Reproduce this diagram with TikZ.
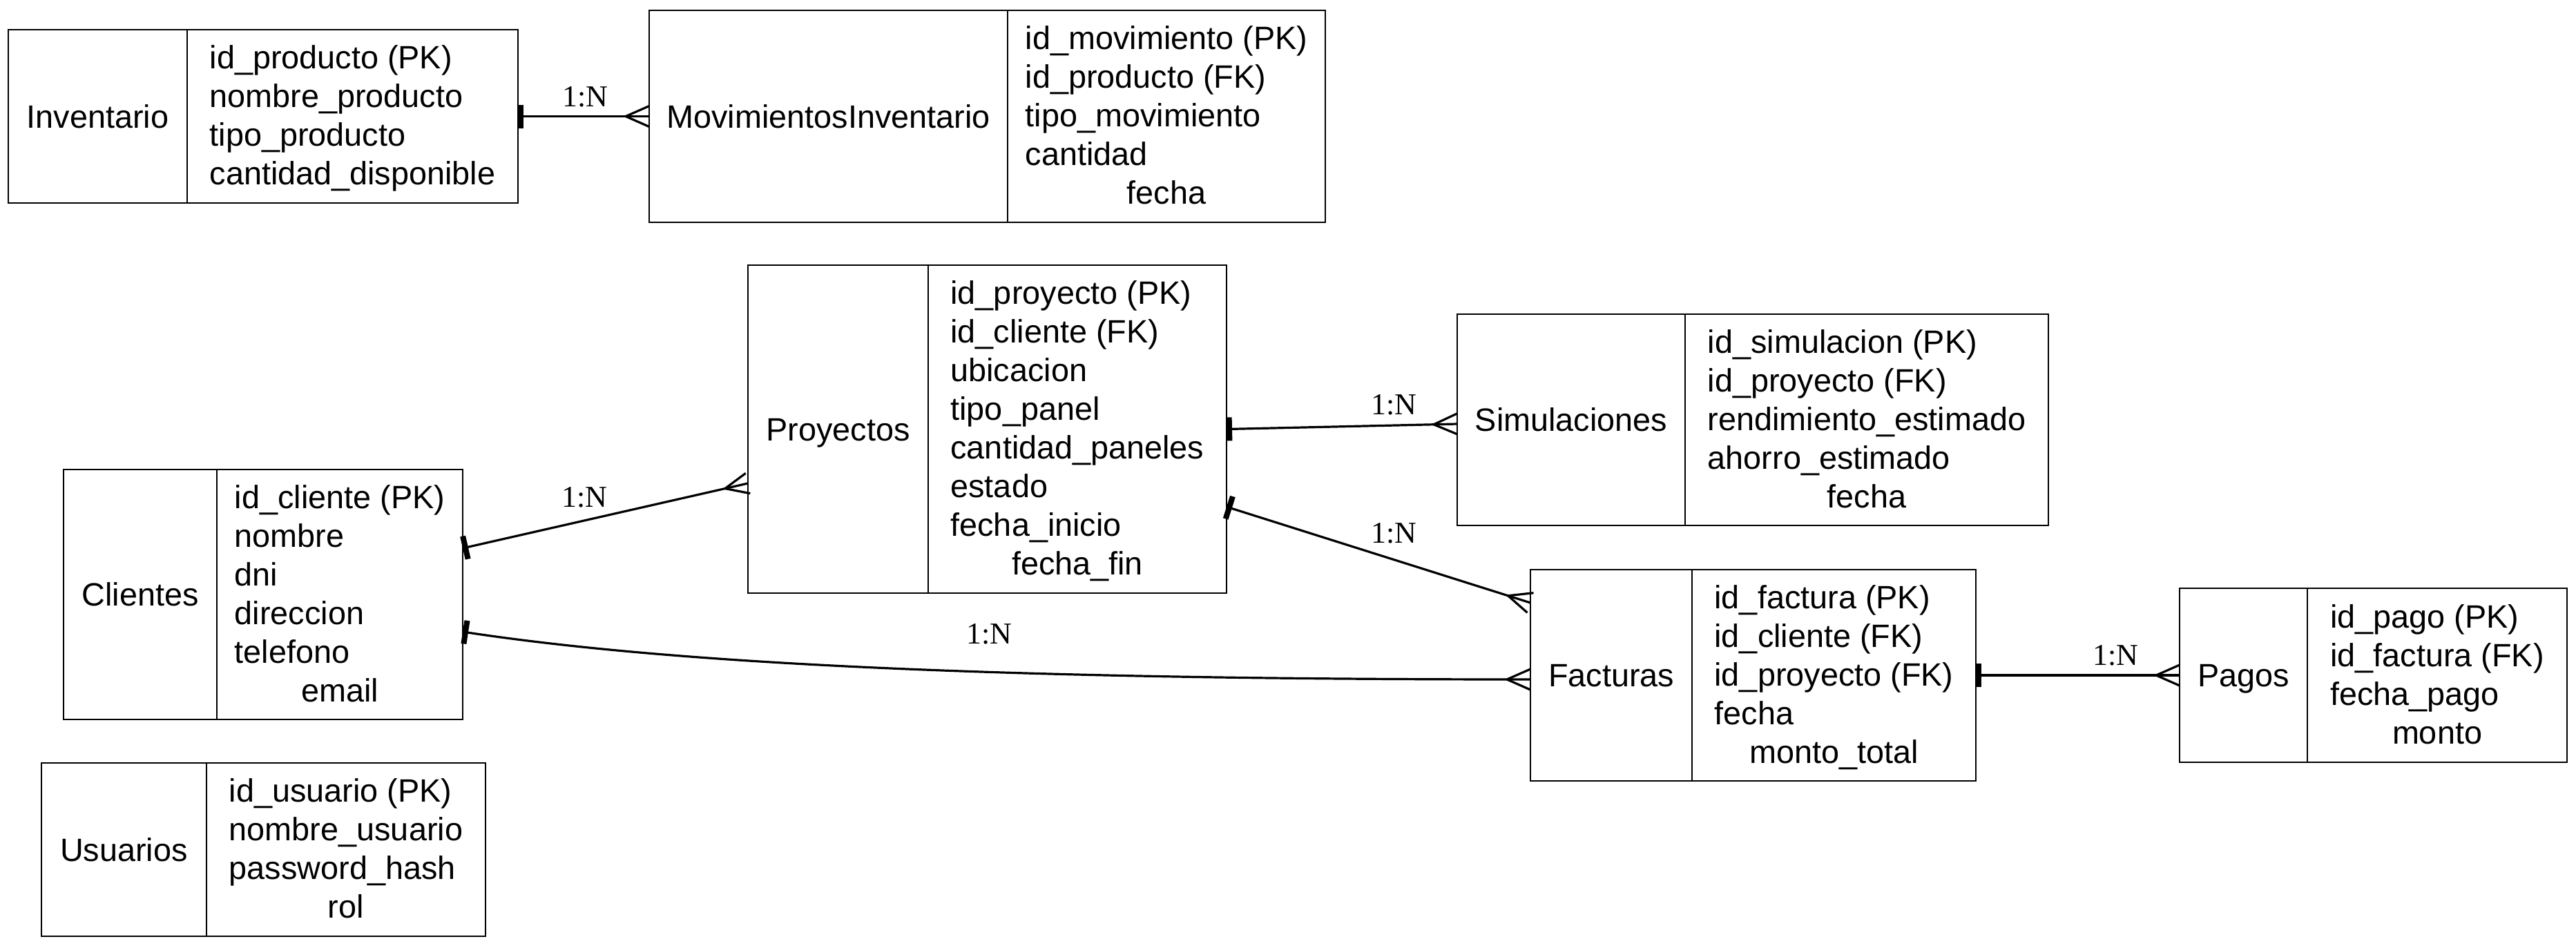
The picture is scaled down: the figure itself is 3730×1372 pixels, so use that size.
\documentclass[tikz,border=0pt]{standalone}
\usepackage{fontspec}
\setmainfont{Liberation Sans}
\newfontfamily\lblfont{Liberation Serif}
\usetikzlibrary{arrows.meta}

\pgfdeclarearrow{
  name = Crow,
  parameters = {\the\pgfarrowlength,\the\pgfarrowwidth},
  setup code = {
    \pgfarrowssettipend{0pt}
    \pgfarrowssetlineend{0pt}
    \pgfarrowssetbackend{-\pgfarrowlength}
    \pgfarrowssavethe\pgfarrowlength
    \pgfarrowssavethe\pgfarrowwidth
  },
  drawing code = {
    \pgfpathmoveto{\pgfqpoint{-\pgfarrowlength}{0pt}}
    \pgfpathlineto{\pgfqpoint{0pt}{.5\pgfarrowwidth}}
    \pgfpathmoveto{\pgfqpoint{-\pgfarrowlength}{0pt}}
    \pgfpathlineto{\pgfqpoint{0pt}{-.5\pgfarrowwidth}}
    \pgfusepathqstroke
  },
  defaults = {length=17pt, width=15pt}
}

\newcommand{\efont}{\fontsize{23.4pt}{28pt}\selectfont}
\newcommand{\lfont}{\lblfont\fontsize{22pt}{26pt}\selectfont}
\newcommand{\flds}[2]{\begin{tabular}{@{}l@{}}#1\\\multicolumn{1}{@{}c@{}}{#2}\end{tabular}}
% name, x1, y1, x2, y2, divider x, title, fields
\newcommand{\ent}[8]{%
  \node[ebox, minimum width={(#4-#2)*0.5pt}, minimum height={(#5-#3)*0.5pt}] (#1) at ({(#2+#4)/2},{(#3+#5)/2}) {};
  \draw[eline] (#6,#3) -- (#6,#5);
  \node[etitle] (#1-t) at ({(#2+#6)/2},{(#3+#5)/2}) {#7};
  \node[efield] (#1-f) at ({(#6+#4)/2},{(#3+#5)/2}) {#8};
}

\begin{document}
\begin{tikzpicture}[x=0.5pt,y=-0.5pt,
  ebox/.style={draw, line width=1.3pt, inner sep=0pt, outer sep=0pt, fill=white},
  eline/.style={line width=1.3pt},
  etitle/.style={inner sep=0pt, font=\efont, text height=16.75pt, text depth=0pt},
  efield/.style={inner sep=0pt, font=\efont, yshift=-2pt},
  lbl/.style={inner sep=0pt, font=\lfont, text height=14.6pt, text depth=0pt},
  conn/.style={line width=1.6pt, arrows={Rectangle[length=4pt,width=17pt]-Crow[length=17pt,width=15pt]}}
]
\fill[white] (0,0) rectangle (3730,1372);
\useasboundingbox (0,0) rectangle (3730,1372);

\ent{inv}{12}{43}{750}{294}{271}{Inventario}{\flds{id\_producto (PK)\\nombre\_producto\\tipo\_producto}{cantidad\_disponible}}
\ent{mov}{940}{15}{1919}{322}{1459}{MovimientosInventario}{\flds{id\_movimiento (PK)\\id\_producto (FK)\\tipo\_movimiento\\cantidad}{fecha}}
\ent{pro}{1083}{384}{1776}{859}{1344}{Proyectos}{\flds{id\_proyecto (PK)\\id\_cliente (FK)\\ubicacion\\tipo\_panel\\cantidad\_paneles\\estado\\fecha\_inicio}{fecha\_fin}}
\ent{sim}{2110}{455}{2966}{761}{2440}{Simulaciones}{\flds{id\_simulacion (PK)\\id\_proyecto (FK)\\rendimiento\_estimado\\ahorro\_estimado}{fecha}}
\ent{cli}{92}{680}{670}{1042}{314}{Clientes}{\flds{id\_cliente (PK)\\nombre\\dni\\direccion\\telefono}{email}}
\ent{fac}{2216}{825}{2861}{1131}{2450}{Facturas}{\flds{id\_factura (PK)\\id\_cliente (FK)\\id\_proyecto (FK)\\fecha}{monto\_total}}
\ent{pag}{3156}{852}{3717}{1104}{3341}{Pagos}{\flds{id\_pago (PK)\\id\_factura (FK)\\fecha\_pago}{monto}}
\ent{usu}{60}{1105}{703}{1356}{299}{Usuarios}{\flds{id\_usuario (PK)\\nombre\_usuario\\password\_hash}{rol}}

\draw[conn] (inv.east) -- (mov.west);
\draw[conn] ([yshift=33.5pt]cli.east) -- ([yshift=-39.25pt]pro.west);
\draw[conn] ([yshift=-27pt]cli.east) .. controls (1000,965) and (1500,984) .. ([yshift=-3pt]fac.west);
\draw[conn] (pro.east) -- ([yshift=-3pt]sim.west);
\draw[conn] ([yshift=-56.25pt]pro.east) -- ([yshift=52.5pt]fac.west);
\draw[conn] (fac.east) -- (pag.west);

\node[lbl] (l1) at (847,140) {1:N};
\node[lbl] (l2) at (846,720) {1:N};
\node[lbl] (l3) at (1432,918) {1:N};
\node[lbl] (l4) at (2018,586) {1:N};
\node[lbl] (l5) at (2018,772) {1:N};
\node[lbl] (l6) at (3063,949) {1:N};
\end{tikzpicture}
\end{document}
